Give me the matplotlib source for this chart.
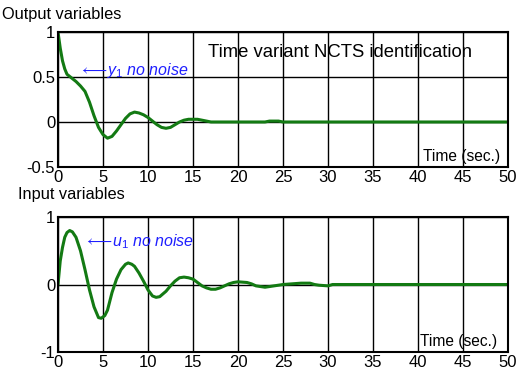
import numpy as np
import matplotlib

matplotlib.use("Agg")
import matplotlib.pyplot as plt

plt.rcParams["font.family"] = ["Liberation Sans", "DejaVu Sans"]
plt.rcParams["mathtext.fontset"] = "custom"
plt.rcParams["mathtext.rm"] = "Liberation Sans"
plt.rcParams["mathtext.it"] = "Liberation Sans:italic"

# output y1 (no noise)
t_out = [0, 0.25, 0.5, 0.75, 1, 1.5, 2, 2.5, 3, 3.5, 4, 4.5, 5, 5.5, 6, 6.5,
         7, 7.5, 8, 8.5, 9, 9.5, 10, 10.5, 11, 11.5, 12, 12.5, 13, 13.5, 14,
         14.5, 15, 15.5, 16, 16.5, 17, 18, 20, 23, 23.5, 24.5, 25, 50]
y_out = [1.0, 0.82, 0.68, 0.59, 0.53, 0.49, 0.45, 0.40, 0.34, 0.22, 0.07,
         -0.06, -0.14, -0.18, -0.16, -0.10, -0.03, 0.04, 0.09, 0.11, 0.10,
         0.08, 0.05, 0.01, -0.03, -0.06, -0.07, -0.06, -0.03, 0.0, 0.02, 0.03,
         0.03, 0.03, 0.02, 0.01, 0.0, 0.0, 0.0, 0.0, 0.01, 0.01, 0.0, 0.0]

# input u1 (no noise)
t_in = [0, 0.25, 0.5, 0.75, 1, 1.3, 1.6, 2, 2.5, 3, 3.5, 4, 4.5, 4.8, 5.2,
        5.5, 6, 6.5, 7, 7.5, 7.8, 8.2, 8.5, 9, 9.5, 10, 10.5, 10.9, 11.3, 12,
        12.5, 13, 13.5, 14, 14.5, 15, 15.5, 16, 16.5, 17, 17.5, 18, 18.5, 19,
        19.5, 20, 21, 21.5, 22, 23, 24, 25, 26, 27, 28, 28.5, 29, 30, 30.5,
        31, 50]
u_in = [0.0, 0.35, 0.55, 0.70, 0.77, 0.80, 0.78, 0.70, 0.50, 0.22, -0.08,
        -0.33, -0.49, -0.50, -0.46, -0.38, -0.12, 0.08, 0.22, 0.30, 0.32, 0.30,
        0.27, 0.17, 0.05, -0.08, -0.17, -0.19, -0.18, -0.10, -0.02, 0.05, 0.10,
        0.11, 0.10, 0.08, 0.03, -0.02, -0.05, -0.07, -0.07, -0.05, -0.02, 0.01,
        0.03, 0.04, 0.03, 0.01, -0.02, -0.04, -0.02, 0.0, 0.01, 0.02, 0.02,
        0.0, -0.01, -0.02, 0.0, 0.0, 0.0]

x_ticks = list(range(0, 51, 5))
green = "#137a13"
blue = "#1f1fff"

fig = plt.figure(figsize=(5.16, 3.76), dpi=100)
ax1 = fig.add_axes([0.1124, 0.5559, 0.8721, 0.359])
ax2 = fig.add_axes([0.1124, 0.0638, 0.8721, 0.359])


def style_axes(ax, yticks, ylim):
    ax.set_xlim(0, 50)
    ax.set_ylim(*ylim)
    ax.set_xticks(x_ticks)
    ax.set_yticks(yticks)
    ax.set_yticklabels([f"{v:g}" for v in yticks])
    ax.grid(True, color="black", linewidth=1.0)
    ax.tick_params(length=0, labelsize=12, pad=2)
    for sp in ax.spines.values():
        sp.set_linewidth(1.5)


style_axes(ax1, [-0.5, 0, 0.5, 1], (-0.5, 1))
style_axes(ax2, [-1, 0, 1], (-1, 1))

ax1.plot(t_out, y_out, color="#7a9ab8", linewidth=0.8)
ax1.plot(t_out, y_out, color=green, linewidth=2.2)
ax2.plot(t_in, u_in, color="#7a9ab8", linewidth=0.8)
ax2.plot(t_in, u_in, color=green, linewidth=2.2)

ax1.text(16.7, 0.77, "Time variant NCTS identification", fontsize=13.3,
         va="center", ha="left")
ax1.text(2.3, 0.57, r"$\longleftarrow\!\mathit{y_1}$ no noise", color=blue,
         style="italic", fontsize=11.5, va="center", ha="left")
ax2.text(2.9, 0.63, r"$\longleftarrow\!\mathit{u_1}$ no noise", color=blue,
         style="italic", fontsize=11.5, va="center", ha="left")
ax1.text(40.5, -0.38, "Time (sec.)", fontsize=11.2, va="center", ha="left")
ax2.text(40.2, -0.85, "Time (sec.)", fontsize=11.2, va="center", ha="left")

fig.text(2 / 516, 1 - 15 / 376, "Output variables", fontsize=11.8,
         va="center", ha="left")
fig.text(18 / 516, 1 - 195 / 376, "Input variables", fontsize=11.8,
         va="center", ha="left")

fig.savefig("out.png", dpi=100)
